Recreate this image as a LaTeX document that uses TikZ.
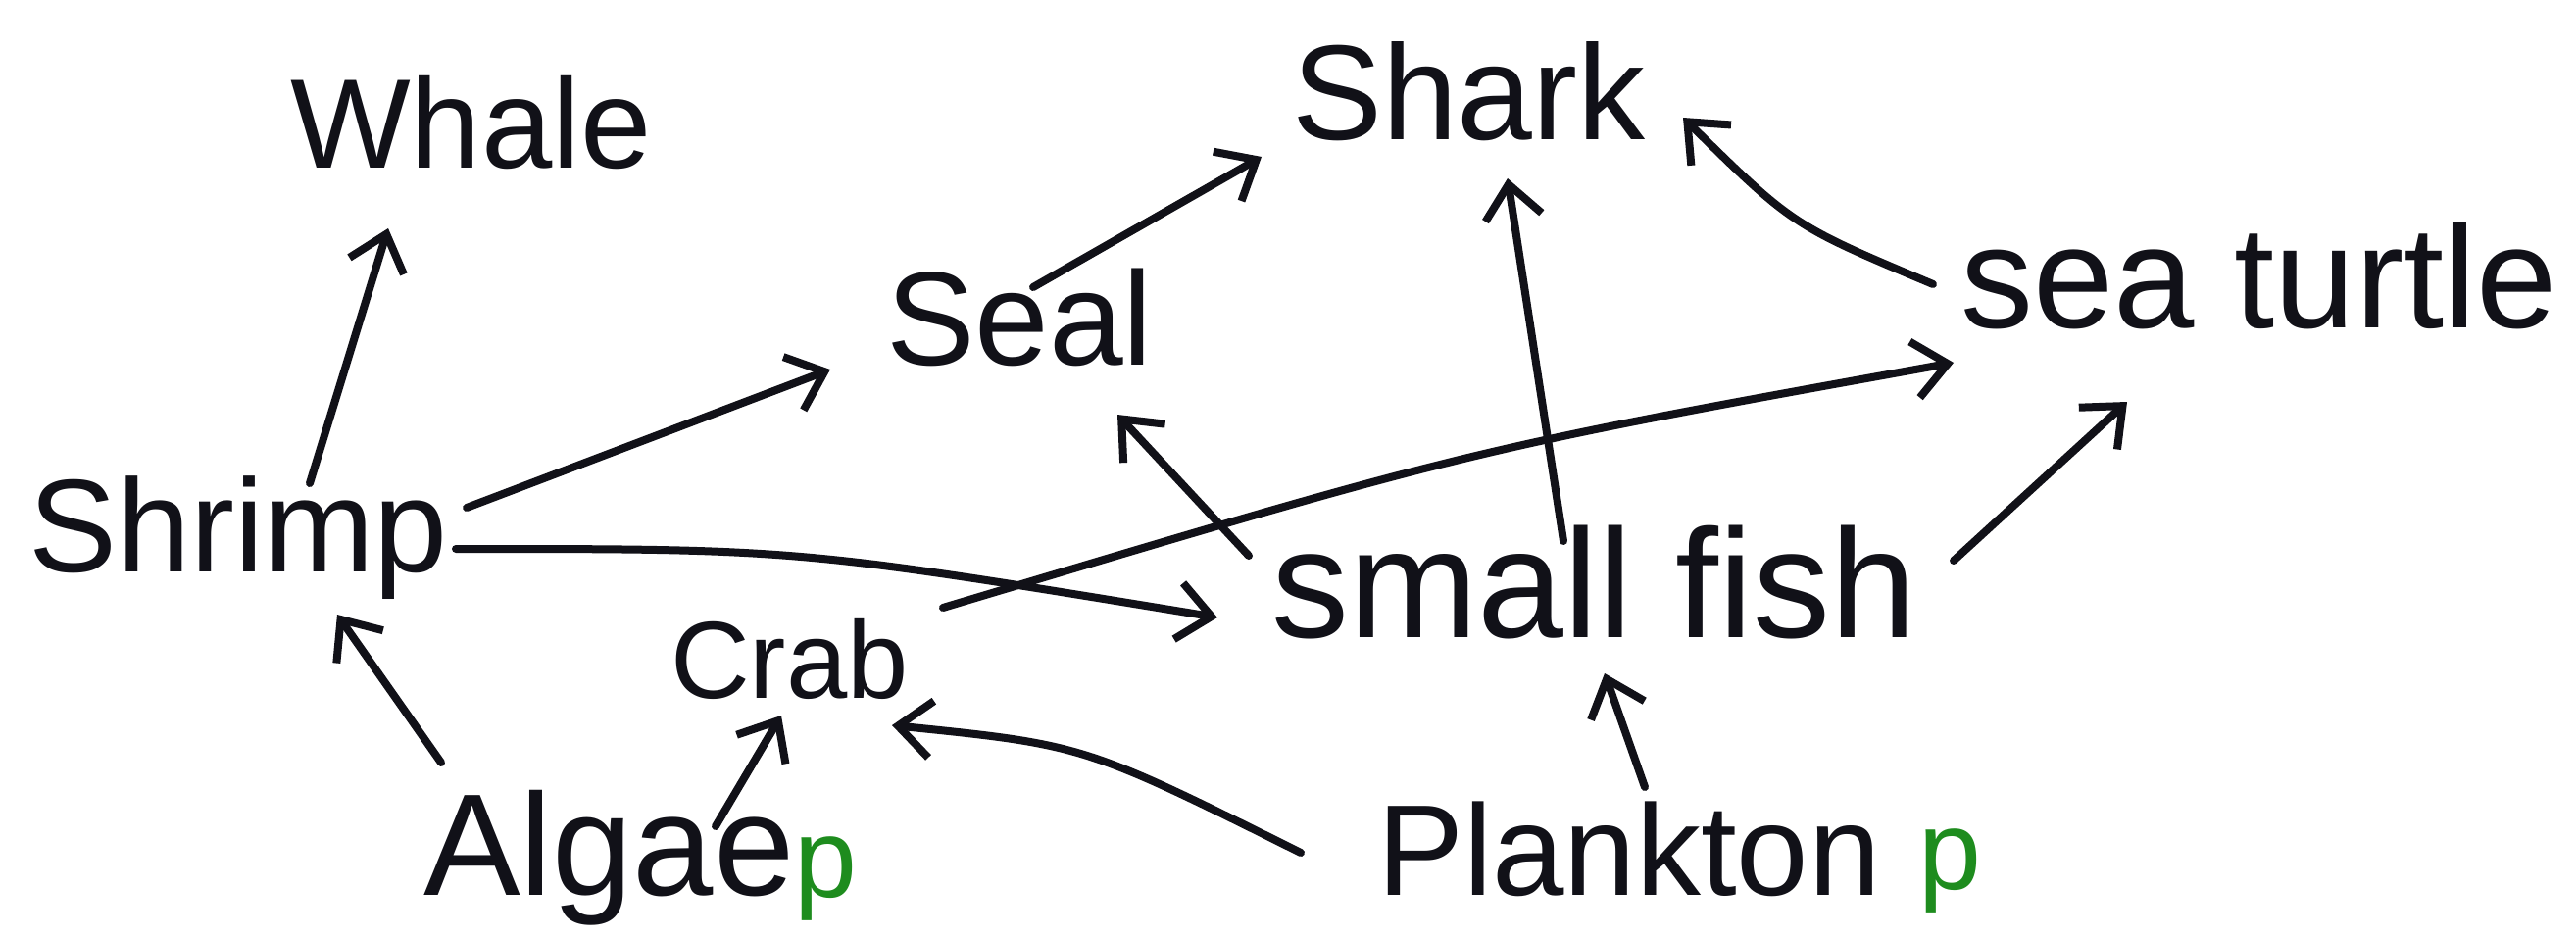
\documentclass[tikz,border=0pt]{standalone}
\usepackage{fontspec}
\setmainfont{Liberation Sans}
\usetikzlibrary{arrows.meta}
\definecolor{ink}{HTML}{111118}
\definecolor{pgreen}{HTML}{1E8C1E}
\begin{document}
\begin{tikzpicture}[x=1pt,y=-1pt,
  lbl/.style={font=\fontsize{#1}{#1}\selectfont, inner sep=0pt, outer sep=0pt, anchor=base west, text=ink},
  prod/.style={font=\fontsize{#1}{#1}\selectfont, inner sep=0pt, outer sep=0pt, anchor=base west, text=pgreen},
  link/.style={draw=ink, line width=8pt, line cap=round, line join=round, -{Straight Barb[length=34pt,width=58pt]}}]
\fill[white] (0,0) rectangle (2628,957);
\useasboundingbox (0,0) rectangle (2628,957);

\node[lbl=130] (whale)    at (296,172)  {Whale};
\node[lbl=138] (shark)    at (1318,143) {Shark};
\node[lbl=136] (seal)     at (904,372)  {Seal};
\node[lbl=148] (turtle)   at (2000,335) {sea turtle};
\node[lbl=135] (shrimp)   at (29,583)   {Shrimp};
\node[lbl=112] (crab)     at (684,712)  {Crab};
\node[lbl=158] (fish)     at (1297,650) {small fish};
\node[lbl=148] (algae)    at (432,913)  {Algae};
\node[lbl=132] (plankton) at (1405,913) {Plankton};
\node[prod=115] (pa)      at (810,915)  {p};
\node[prod=115] (pp)      at (1957,907) {p};

% Shrimp -> Whale
\draw[link] ([shift={(287,-90)}]shrimp.base west) -- ([shift={(100,61)}]whale.base west);
% Shrimp -> Seal
\draw[link] ([shift={(447,-65)}]shrimp.base west) -- ([shift={(-57,5)}]seal.base west);
% Shrimp -> small fish
\draw[link] ([shift={(436,-23)}]shrimp.base west) .. controls +(350,0) .. ([shift={(-55,-20)}]fish.base west);
% Seal -> Shark
\draw[link] ([shift={(150,-79)}]seal.base west) -- ([shift={(-31,17)}]shark.base west);
% small fish -> Shark
\draw[link] ([shift={(298,-98)}]fish.base west) -- ([shift={(220,39)}]shark.base west);
% small fish -> Seal
\draw[link] ([shift={(-23,-83)}]fish.base west) -- ([shift={(236,51)}]seal.base west);
% small fish -> sea turtle
\draw[link] ([shift={(696,-78)}]fish.base west) -- ([shift={(170,75)}]turtle.base west);
% sea turtle -> Shark
\draw[link] ([shift={(-28,-45)}]turtle.base west) .. controls +(-143,-60) .. ([shift={(399,-23)}]shark.base west);
% Crab -> sea turtle
\draw[link] ([shift={(278,-92)}]crab.base west) .. controls +(537,-161) .. ([shift={(-7,35)}]turtle.base west);
% Algae -> Shrimp
\draw[link] ([shift={(18,-135)}]algae.base west) -- ([shift={(315,44)}]shrimp.base west);
% Algae -> Crab
\draw[link] ([shift={(298,-70)}]algae.base west) -- ([shift={(113,18)}]crab.base west);
% Plankton -> Crab
\draw[link] ([shift={(-78,-43)}]plankton.base west) .. controls +(-221,-110) .. ([shift={(226,28)}]crab.base west);
% Plankton -> small fish
\draw[link] ([shift={(273,-110)}]plankton.base west) -- ([shift={(340,37)}]fish.base west);
\end{tikzpicture}
\end{document}
